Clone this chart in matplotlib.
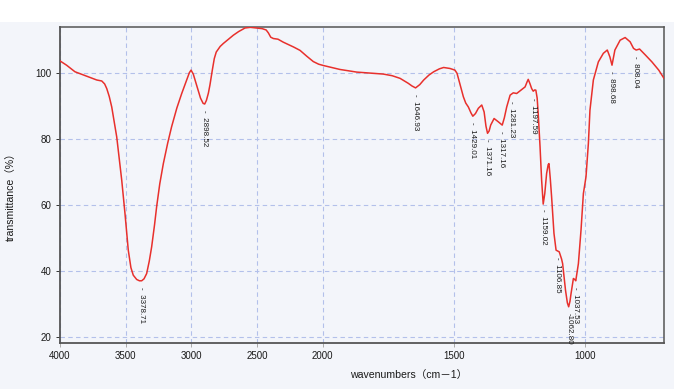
import numpy as np
import matplotlib
matplotlib.use("Agg")
import matplotlib.pyplot as plt
from matplotlib.ticker import FixedLocator, FixedFormatter
from matplotlib.patches import Rectangle

# ---- data ----
wavenumber = [4000, 3950, 3886, 3800, 3720, 3682, 3660, 3644, 3625, 3606, 3590, 3568, 3550, 3530,
              3505, 3480, 3460, 3442, 3416, 3395, 3378, 3360, 3340, 3320, 3302, 3280, 3264, 3240,
              3213, 3180, 3150, 3110, 3073, 3040, 3015, 3002, 2985, 2959, 2930, 2910, 2898, 2885,
              2870, 2858, 2840, 2825, 2810, 2780, 2756, 2720, 2680, 2640, 2591, 2550, 2502, 2460,
              2430, 2413, 2395, 2375, 2340, 2300, 2273, 2220, 2172, 2120, 2071, 2030, 1997, 1934,
              1870, 1800, 1769, 1735, 1705, 1674, 1660, 1646, 1630, 1615, 1595, 1577, 1555, 1539,
              1515, 1496, 1488, 1483, 1473, 1464, 1455, 1445, 1435, 1428, 1418, 1407, 1394, 1385,
              1378, 1372, 1366, 1360, 1347, 1339, 1331, 1316, 1308, 1299, 1286, 1274, 1261, 1250,
              1242, 1229, 1221, 1217, 1210, 1204, 1198, 1192, 1188, 1183, 1179, 1172, 1166, 1160,
              1154, 1147, 1141, 1138, 1133, 1128, 1119, 1111, 1099, 1090, 1086, 1075, 1068, 1063,
              1058, 1054, 1045, 1040, 1036, 1026, 1016, 1007, 997, 988, 982, 969, 950, 931,
              916, 906, 898, 887, 867, 848, 829, 816, 806, 793, 771, 746, 720, 700]
transmittance = [103.8, 102.5, 100.5, 99.2, 98.0, 97.7, 96.8, 95.4, 93.0, 89.8, 86.0, 80.7, 74.5, 67.6,
                 57.4, 46.3, 41.0, 38.7, 37.4, 37.0, 37.0, 37.6, 39.2, 43.0, 47.3, 54.0, 59.5, 66.5,
                 72.6, 78.8, 83.8, 89.5, 93.9, 97.5, 100.2, 101.0, 99.8, 96.4, 92.5, 90.9, 90.7, 91.8,
                 94.0, 96.5, 101.0, 104.5, 106.5, 108.2, 109.1, 110.3, 111.6, 112.7, 113.8, 114.0, 113.8, 113.6,
                 113.2, 112.3, 111.0, 110.6, 110.4, 109.5, 109.0, 108.0, 107.0, 105.2, 103.6, 102.8, 102.4, 101.2,
                 100.4, 100.0, 99.8, 99.3, 98.5, 97.0, 96.2, 95.6, 96.6, 98.0, 99.5, 100.5, 101.4, 101.8,
                 101.5, 101.0, 100.0, 98.5, 95.5, 92.9, 91.0, 89.8, 88.0, 87.0, 87.8, 89.4, 90.4, 88.3,
                 84.0, 81.8, 82.5, 84.3, 86.3, 85.8, 85.3, 84.3, 86.5, 89.8, 93.4, 94.1, 93.9, 94.6,
                 95.1, 95.9, 97.5, 98.2, 96.8, 95.4, 94.6, 95.0, 94.9, 92.5, 87.8, 77.7, 67.6, 60.3,
                 63.5, 69.6, 72.3, 72.6, 68.0, 62.5, 51.4, 46.3, 45.8, 43.6, 42.2, 34.1, 30.3, 29.1,
                 30.8, 33.1, 37.7, 37.4, 37.0, 42.2, 52.4, 63.5, 68.6, 78.7, 88.8, 98.0, 103.5, 106.1,
                 107.1, 105.0, 102.5, 107.1, 110.1, 110.9, 109.6, 107.6, 107.1, 107.4, 105.6, 103.5, 101.0, 98.5]

peak_labels = [3378.71, 2898.52, 1646.93, 1429.01, 1371.16, 1317.16, 1281.23, 1197.59,
               1159.02, 1106.85, 1062.80, 1037.53, 898.68, 808.04]

x_ticks = [4000, 3500, 3000, 2500, 2000, 1500, 1000]
y_ticks = [20, 40, 60, 80, 100]

# ---- scale: doubled resolution below 2000 cm-1 ----
def fwd(w):
    w = np.asarray(w, dtype=float)
    return np.where(w >= 2000, 4000 - w, 2000 + 2 * (2000 - w))

def inv(u):
    u = np.asarray(u, dtype=float)
    return np.where(u <= 2000, 4000 - u, 2000 - (u - 2000) / 2)

fam = ['Liberation Sans', 'Noto Sans CJK JP', 'DejaVu Sans']
bg = '#f3f5fa'
fig = plt.figure(figsize=(6.8, 3.89), dpi=100, facecolor=bg)
fig.patches.append(Rectangle((0, 1 - 22 / 389), 1, 22 / 389, transform=fig.transFigure,
                             facecolor='white', edgecolor='none', zorder=-1))
fig.patches.append(Rectangle((1 - 6 / 680, 0), 6 / 680, 1, transform=fig.transFigure,
                             facecolor='white', edgecolor='none', zorder=-1))

ax = fig.add_axes([60 / 680, 1 - 343 / 389, 604 / 680, 316 / 389])
ax.set_facecolor(bg)
ax.set_xscale('function', functions=(fwd, inv))
ax.set_xlim(700, 4000)
ax.set_ylim(18.1, 114.1)

ax.plot(wavenumber, transmittance, color='#e8302c', lw=1.1, zorder=3)

for p in peak_labels:
    t = np.interp(p, wavenumber[::-1], transmittance[::-1])
    txt = ('-' if p == 1062.80 else '-  ') + f'{p:.2f}'
    ax.annotate(txt, xy=(p, t), xytext=(0, -6.5), textcoords='offset pixels',
                rotation=-90, ha='center', va='top', family=fam, size=5.8,
                color='#1a1a1a', zorder=4)

ax.xaxis.set_major_locator(FixedLocator(x_ticks))
ax.xaxis.set_major_formatter(FixedFormatter([str(v) for v in x_ticks]))
ax.xaxis.set_minor_locator(FixedLocator([]))
ax.set_yticks(y_ticks)

ax.grid(True, color='#b3c0ea', lw=0.8, ls=(0, (4, 3)))
ax.set_axisbelow(True)

for s in ax.spines.values():
    s.set_color('#555555')
    s.set_linewidth(1.1)
ax.spines['left'].set_linewidth(1.3)
ax.spines['bottom'].set_linewidth(1.3)

ax.tick_params(axis='both', direction='out', length=3, width=0.7, colors='#333333', pad=3)
ax.tick_params(axis='x', colors='#aaaaaa', labelcolor='#1a1a1a')
ax.tick_params(axis='y', labelcolor='#1a1a1a')
for lab in ax.get_xticklabels() + ax.get_yticklabels():
    lab.set_fontfamily(fam)
    lab.set_fontsize(7)

fig.text(350 / 680, 1 - 375 / 389, 'wavenumbers\uff08cm\uff0d1\uff09', ha='left', va='center',
         family=fam, size=7.6, color='#1a1a1a')
fig.text(11 / 680, 1 - 194 / 389, 'transmittance\uff08%\uff09', rotation=90, ha='center', va='center',
         family=fam, size=7.6, color='#1a1a1a')

fig.savefig('out.png', dpi=100, facecolor=fig.get_facecolor())
